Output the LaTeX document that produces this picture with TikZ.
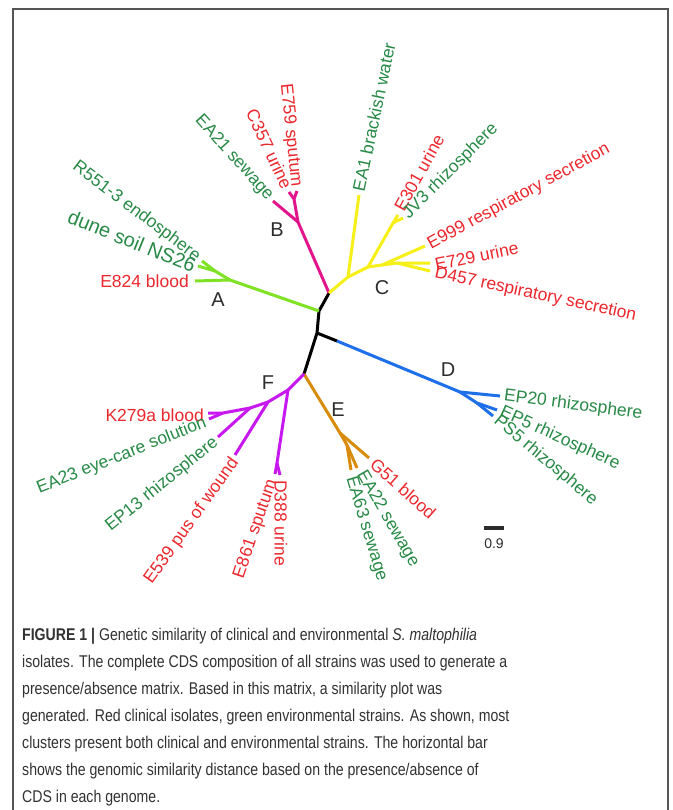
\documentclass[tikz,border=0pt]{standalone}
\usepackage{fontspec}
\setmainfont{Liberation Sans}
\newfontfamily\capfont[FakeStretch=0.83]{Liberation Sans}
\definecolor{colA}{RGB}{128,226,36}
\definecolor{colB}{RGB}{226,22,140}
\definecolor{colC}{RGB}{246,240,24}
\definecolor{colD}{RGB}{30,112,232}
\definecolor{colE}{RGB}{216,140,12}
\definecolor{colF}{RGB}{200,24,240}
\definecolor{envgreen}{RGB}{40,138,70}
\definecolor{clired}{RGB}{236,40,46}
\definecolor{grpgray}{RGB}{45,45,45}
\definecolor{captext}{RGB}{50,50,50}
\definecolor{framegray}{RGB}{85,85,85}
\begin{document}
\begin{tikzpicture}[x=1pt,y=-1pt,
  br/.style={line width=3pt, line join=round},
  lab/.style={font=\fontsize{17.5}{20}\selectfont, inner sep=1pt},
  env/.style={lab, text=envgreen},
  cli/.style={lab, text=clired},
  grp/.style={font=\fontsize{20}{24}\selectfont, text=grpgray, inner sep=0pt},
  captionline/.style={font=\capfont\fontsize{17}{20}\selectfont, text=captext, anchor=base west, inner sep=0pt}]
\useasboundingbox (0,0) rectangle (672,810);
\fill[white] (0,0) rectangle (672,810);
% frame
\draw[framegray, line width=1.5pt] (13,810) -- (13,9) -- (668,9) -- (668,810);

% ---- tree coordinates ----
\coordinate (J1) at (329,293);
\coordinate (J2) at (319,311);
\coordinate (J3) at (317,333);
\coordinate (J4) at (304,374);
\coordinate (D0) at (337,341);
% A
\coordinate (A1) at (230,280);
\coordinate (A2) at (215,271);
\coordinate (tE824) at (195,281);
\coordinate (tR551) at (202,261);
\coordinate (tDune) at (198,266);
% B
\coordinate (B1) at (298,222);
\coordinate (B2) at (294,199);
\coordinate (tEA21) at (273,201);
\coordinate (tC357) at (289,192);
\coordinate (tE759) at (297,191);
% C
\coordinate (C1) at (348,277);
\coordinate (C2) at (368,267);
\coordinate (C3) at (393,223);
\coordinate (C4) at (382,265);
\coordinate (C5) at (397,263);
\coordinate (tEA1) at (359,195);
\coordinate (tE301) at (398,215);
\coordinate (tJV3) at (403,218);
\coordinate (tE999) at (425,246);
\coordinate (tE729) at (430,263);
\coordinate (tD457) at (430,271);
% D
\coordinate (D1) at (460,392);
\coordinate (D2) at (477,403);
\coordinate (tEP20) at (500,396);
\coordinate (tEP5) at (497,410);
\coordinate (tPS5) at (493,416);
% E
\coordinate (E1) at (340,433);
\coordinate (E2) at (347,445);
\coordinate (tG51) at (369,458);
\coordinate (tEA22) at (357,468);
\coordinate (tEA63) at (351,470);
% F
\coordinate (F1) at (288,390);
\coordinate (F2) at (268,402);
\coordinate (F3) at (250,408);
\coordinate (F4) at (223,413);
\coordinate (F6) at (277,463);
\coordinate (tK279) at (208,413);
\coordinate (tEA23) at (209,419);
\coordinate (tEP13) at (218,437);
\coordinate (tE539) at (235,455);
\coordinate (tE861) at (275,474);
\coordinate (tD388) at (280,475);

% ---- branches ----
\draw[br, black] (J1) -- (J2) -- (J3) -- (J4);
\draw[br, black] (J3) -- (D0);
\draw[br, colA] (J2) -- (A1) -- (tE824);
\draw[br, colA] (A1) -- (A2) -- (tR551);
\draw[br, colA] (A2) -- (tDune);
\draw[br, colB] (J1) -- (B1) -- (B2) -- (tC357);
\draw[br, colB] (B2) -- (tE759);
\draw[br, colB] (B1) -- (tEA21);
\draw[br, colC] (J1) -- (C1) -- (tEA1);
\draw[br, colC] (C1) -- (C2) -- (C3) -- (tE301);
\draw[br, colC] (C3) -- (tJV3);
\draw[br, colC] (C2) -- (C4) -- (tE999);
\draw[br, colC] (C4) -- (C5) -- (tE729);
\draw[br, colC] (C5) -- (tD457);
\draw[br, colD] (D0) -- (D1) -- (tEP20);
\draw[br, colD] (D1) -- (D2) -- (tEP5);
\draw[br, colD] (D2) -- (tPS5);
\draw[br, colE] (J4) -- (E1) -- (tG51);
\draw[br, colE] (E1) -- (E2) -- (tEA22);
\draw[br, colE] (E2) -- (tEA63);
\draw[br, colF] (J4) -- (F1) -- (F6) -- (tD388);
\draw[br, colF] (F6) -- (tE861);
\draw[br, colF] (F1) -- (F2) -- (tE539);
\draw[br, colF] (F2) -- (F3) -- (tEP13);
\draw[br, colF] (F3) -- (F4) -- (tK279);
\draw[br, colF] (F4) -- (tEA23);

% ---- labels ----
% A
\node[cli, anchor=east] (lE824) at (190,281) {E824 blood};
\node[env, anchor=east, rotate=-22, font=\fontsize{20}{24}\selectfont] (lDune) at (196,267) {dune soil NS26};
\node[env, anchor=east, rotate=-37] (lR551) at (199,259) {R551-3 endosphere};
% B
\node[env, anchor=east, rotate=-48] (lEA21) at (271,199) {EA21 sewage};
\node[cli, anchor=east, rotate=-65] (lC357) at (288,189) {C357 urine};
\node[cli, anchor=east, rotate=-84] (lE759) at (296,188) {E759 sputum};
% C
\node[env, anchor=west, rotate=78] (lEA1) at (358,192) {EA1 brackish water};
\node[cli, anchor=west, rotate=61] (lE301) at (398,211) {E301 urine};
\node[env, anchor=west, rotate=45] (lJV3) at (405,217) {JV3 rhizosphere};
\node[cli, anchor=west, rotate=28.5] (lE999) at (428,246) {E999 respiratory secretion};
\node[cli, anchor=west, rotate=11.5] (lE729) at (434,265) {E729 urine};
\node[cli, anchor=west, rotate=-12] (lD457) at (434,273) {D457 respiratory secretion};
% D
\node[env, anchor=west, rotate=-7.5] (lEP20) at (503,396) {EP20 rhizosphere};
\node[env, anchor=west, rotate=-24.5] (lEP5) at (500,411) {EP5 rhizosphere};
\node[env, anchor=west, rotate=-40] (lPS5) at (495,418) {PS5 rhizosphere};
% E
\node[cli, anchor=west, rotate=-41.5] (lG51) at (372,461) {G51 blood};
\node[env, anchor=west, rotate=-60] (lEA22) at (360,471) {EA22 sewage};
\node[env, anchor=west, rotate=-73] (lEA63) at (350,476) {EA63 sewage};
% F
\node[cli, anchor=east] (lK279) at (205,415) {K279a blood};
\node[env, anchor=east, rotate=21.7] (lEA23) at (207,422) {EA23 eye-care solution};
\node[env, anchor=east, rotate=39] (lEP13) at (217,440) {EP13 rhizosphere};
\node[cli, anchor=east, rotate=54.5] (lE539) at (236,459) {E539 pus of wound};
\node[cli, anchor=east, rotate=71] (lE861) at (273,479) {E861 sputum};
\node[cli, anchor=west, rotate=-90] (lD388) at (281,479) {D388 urine};

% group letters
\node[grp] (gA) at (218,300) {A};
\node[grp] (gB) at (277,230) {B};
\node[grp] (gC) at (382,288) {C};
\node[grp] (gD) at (448,370) {D};
\node[grp] (gE) at (338,410) {E};
\node[grp] (gF) at (268,383) {F};

% scale bar
\coordinate (sb1) at (484,528);
\coordinate (sb2) at (504,528);
\draw[grpgray, line width=4pt] (sb1) -- (sb2);
\node[text=grpgray, font=\fontsize{14}{16}\selectfont, inner sep=0pt] (sblab) at (494,544) {0.9};

% caption
\node[captionline] (cap1) at (22,640) {\textbf{FIGURE 1 |} Genetic similarity of clinical and environmental \textit{S. maltophilia}};
\node[captionline] (cap2) at (22,667) {isolates. The complete CDS composition of all strains was used to generate a};
\node[captionline] (cap3) at (22,694) {presence/absence matrix. Based in this matrix, a similarity plot was};
\node[captionline] (cap4) at (22,721) {generated. Red clinical isolates, green environmental strains. As shown, most};
\node[captionline] (cap5) at (22,748) {clusters present both clinical and environmental strains. The horizontal bar};
\node[captionline] (cap6) at (22,775) {shows the genomic similarity distance based on the presence/absence of};
\node[captionline] (cap7) at (22,802) {CDS in each genome.};
\end{tikzpicture}
\end{document}
